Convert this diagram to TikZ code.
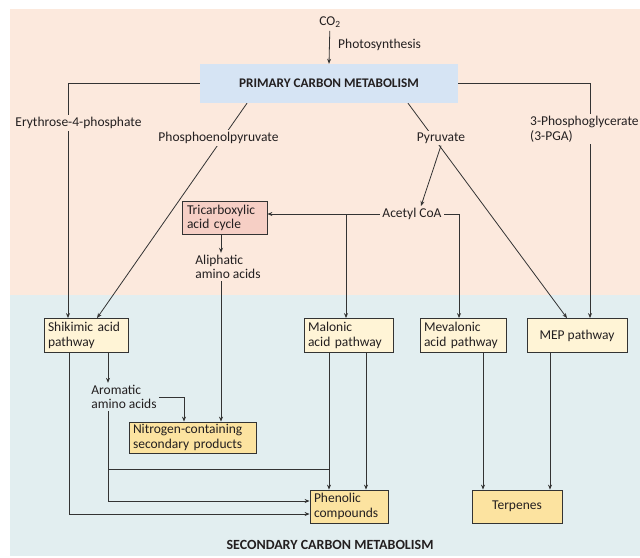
\documentclass[tikz,border=0pt]{standalone}
\usepackage{fontspec}
\setmainfont{Carlito}
\usetikzlibrary{arrows.meta}
\pgfdeclarelayer{bglayer}
\pgfdeclarelayer{linelayer}
\pgfsetlayers{bglayer,linelayer,main}
\definecolor{peach}{HTML}{FCE9DD}
\definecolor{paleblue}{HTML}{E2EEF0}
\definecolor{primfill}{HTML}{D6E4F4}
\definecolor{tcafill}{HTML}{F6CFC5}
\definecolor{cream}{HTML}{FFF4D6}
\definecolor{yel}{HTML}{FCE3A0}
\definecolor{ink}{HTML}{231F20}
\definecolor{linec}{HTML}{333333}
\tikzset{
  every node/.style={text=ink, font=\fontsize{13.5}{14.5}\selectfont},
  conn/.style={draw=linec, line width=0.8pt},
  arr/.style={conn, -{Stealth[length=5pt,width=4pt]}},
  lbl/.style={inner sep=2pt},
  pbox/.style={draw=linec, line width=0.8pt, fill=cream, inner xsep=4pt, inner ysep=2pt, align=left},
  ybox/.style={pbox, fill=yel},
}
\begin{document}
\begin{tikzpicture}[x=1pt,y=-1pt]
\useasboundingbox (0,0) rectangle (640,557);
\begin{pgfonlayer}{bglayer}
  \fill[white] (0,0) rectangle (640,557);
  \fill[peach] (10,9) rectangle (640,295);
  \fill[paleblue] (10,295) rectangle (640,556);
\end{pgfonlayer}

% primary
\node (co2) at (330,22) {CO\textsubscript{2}};
\node[anchor=west, lbl] (photo) at (336,45) {Photosynthesis};
\node[fill=primfill, minimum width=258pt, minimum height=39pt, font=\bfseries\fontsize{13.2}{14}\selectfont] (primary) at (329,83.5) {PRIMARY CARBON METABOLISM};

% labels
\node[lbl, fill=peach] (ery) at (78.5,123) {Erythrose-4-phosphate};
\node[lbl, fill=peach] (pep) at (218.5,138) {Phosphoenolpyruvate};
\node[lbl, fill=peach] (pyr) at (441,138) {Pyruvate};
\node[lbl, fill=peach, anchor=north west, align=left, inner xsep=1pt] (pga) at (529,114) {3-Phosphoglycerate\\(3-PGA)};
\node[lbl, fill=peach] (acetyl) at (412,214) {Acetyl CoA};
\node[pbox, fill=tcafill, minimum width=85pt, minimum height=33pt, text width=75pt, inner xsep=5pt] (tca) at (224.5,218) {Tricarboxylic\\acid cycle};
\node[lbl, align=left] (aliph) at (228,267) {Aliphatic\\amino acids};

% secondary boxes
\node[pbox, minimum width=84pt, minimum height=34pt, text width=76pt] (shik) at (86,335.5) {Shikimic acid\\pathway};
\node[pbox, minimum width=89pt, minimum height=34pt, text width=81pt] (mal) at (348.5,335.5) {Malonic\\acid pathway};
\node[pbox, minimum width=86pt, minimum height=34pt, text width=78pt] (mev) at (463,335.5) {Mevalonic\\acid pathway};
\node[pbox, minimum width=100pt, minimum height=34pt, align=center] (mep) at (577,335.5) {MEP pathway};
\node[lbl, align=left] (arom) at (124,397) {Aromatic\\amino acids};
\node[ybox, minimum width=127pt, minimum height=31pt, text width=119pt] (nitro) at (192.5,437.5) {Nitrogen-containing\\secondary products};
\node[ybox, minimum width=78pt, minimum height=33pt, text width=70pt] (phen) at (349,506.5) {Phenolic\\compounds};
\node[ybox, minimum width=90pt, minimum height=33pt, align=center] (terp) at (517,506.5) {Terpenes};
\node[font=\bfseries\fontsize{14}{16}\selectfont] (sec) at (330,545) {SECONDARY CARBON METABOLISM};

% connectors
\begin{pgfonlayer}{linelayer}
  \draw[arr] (co2) -- (primary.north);
  \draw[arr] (primary.west) -| ([xshift=-18pt]shik.north);
  \draw[arr] (primary.east) -| ([xshift=13pt]mep.north);
  \draw[arr] ([xshift=-82pt]primary.south) -- ([xshift=11pt]shik.north);
  \draw[arr] ([xshift=79pt]primary.south) -- ([xshift=-10pt]mep.north);
  \draw[arr] (pyr.south) -- ([xshift=9pt]acetyl.north);
  \draw[arr] (acetyl.west) -- (acetyl.west -| tca.east);
  \coordinate (brk) at ([xshift=-2.5pt]mal.north);
  \draw[arr] (brk |- acetyl.west) -- (brk);
  \draw[arr] (acetyl.east) -| ([xshift=-4pt]mev.north);
  \coordinate (alx) at ([xshift=-3.5pt]tca.south);
  \draw[arr] (alx) -- (alx |- aliph.north);
  \draw[arr] (alx |- aliph.south) -- (alx |- nitro.north);
  \coordinate (arx) at ([xshift=22pt]shik.south);
  \draw[arr] (arx) -- (arx |- arom.north);
  \draw[arr] (arom.east) -| ([xshift=-8.5pt]nitro.north);
  \draw[arr] (arx |- arom.south) |- ([yshift=5.5pt]phen.west);
  \coordinate (ja) at (108,469);
  \coordinate (jb) at ([xshift=-20pt]phen.north);
  \draw[conn] (ja) -- (jb |- ja);
  \draw[arr] ([xshift=-19.5pt]mal.south) -- ([xshift=-20pt]phen.north);
  \draw[arr] ([xshift=17.5pt]mal.south) -- ([xshift=17pt]phen.north);
  \draw[arr] ([xshift=-17pt]shik.south) |- ([yshift=-7.5pt]phen.west);
  \draw[arr] ([xshift=20pt]mev.south) -- ([xshift=20pt]mev.south |- terp.north);
  \draw[arr] ([xshift=-27pt]mep.south) -- ([xshift=-27pt]mep.south |- terp.north);
\end{pgfonlayer}
\end{tikzpicture}
\end{document}
